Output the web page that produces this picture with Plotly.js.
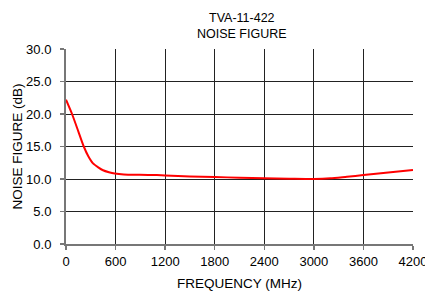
<!DOCTYPE html>
<html><head><meta charset="utf-8">
<script src="https://cdn.plot.ly/plotly-3.0.1.min.js"></script>
<style>body{margin:0;background:#fff}#c{width:425px;height:291px}</style>
</head><body><div id="c"></div>
<script>
var freq = [0, 73, 150, 215, 270, 327, 390, 448, 520, 590, 700, 893, 1100, 1200, 1500, 1800, 2100, 2400, 2700, 3000, 3200, 3400, 3600, 3900, 4200];
var nf   = [22.2, 20.0, 17.3, 15.0, 13.5, 12.4, 11.8, 11.35, 11.05, 10.85, 10.7, 10.65, 10.6, 10.55, 10.4, 10.3, 10.2, 10.1, 10.05, 10.0, 10.1, 10.35, 10.6, 11.0, 11.4];
var xTicks = [0, 600, 1200, 1800, 2400, 3000, 3600, 4200];
var yTicks = [0, 5, 10, 15, 20, 25, 30];
var yLabels = ["0.0", "5.0", "10.0", "15.0", "20.0", "25.0", "30.0"];
var chartTitle = "TVA-11-422<br>NOISE FIGURE";
var FAM = "Liberation Sans, Arial, sans-serif";
Plotly.newPlot("c", [{
  x: freq, y: nf, type: "scatter", mode: "lines",
  line: {color: "#ff0000", width: 2, shape: "spline", smoothing: 0.6},
  hoverinfo: "none"
}], {
  width: 425, height: 291,
  margin: {l: 66, r: 12, t: 49, b: 47},
  paper_bgcolor: "#fff", plot_bgcolor: "#fff",
  showlegend: false,
  font: {family: FAM, size: 13, color: "#000"},
  annotations: [{
    text: chartTitle, xref: "paper", yref: "paper", x: 0.507, y: 1,
    xanchor: "center", yanchor: "bottom", yshift: 6, showarrow: false,
    font: {family: FAM, size: 12.5, color: "#000"}
  }],
  xaxis: {
    range: [0, 4200], tickvals: xTicks, ticktext: xTicks.map(String),
    showgrid: true, gridcolor: "#222", gridwidth: 1, zeroline: false,
    showline: true, linecolor: "#777", linewidth: 2, mirror: false,
    ticks: "outside", ticklen: 4, tickcolor: "#777", tickwidth: 1.5,
    ticklabeloverflow: "allow", ticklabelstandoff: 0,
    tickfont: {family: FAM, size: 13, color: "#000"},
    title: {text: "FREQUENCY (MHz)", font: {family: FAM, size: 13.5, color: "#000"}, standoff: 11}
  },
  yaxis: {
    range: [0, 30], tickvals: yTicks, ticktext: yLabels,
    showgrid: true, gridcolor: "#222", gridwidth: 1, zeroline: false,
    showline: true, linecolor: "#777", linewidth: 2, mirror: false,
    ticks: "outside", ticklen: 4, tickcolor: "#777", tickwidth: 1.5,
    ticklabelstandoff: 6,
    tickfont: {family: FAM, size: 13, color: "#000"},
    title: {text: "NOISE FIGURE (dB)", font: {family: FAM, size: 13.5, color: "#000"}, standoff: 0}
  }
}, {staticPlot: true, displayModeBar: false});
</script></body></html>
